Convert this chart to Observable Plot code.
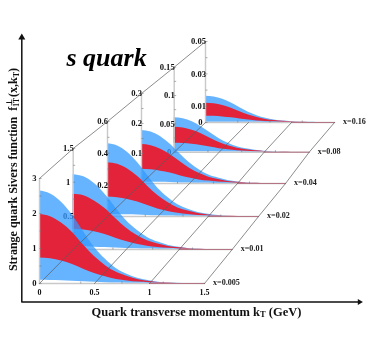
<!DOCTYPE html>
<html><head><meta charset="utf-8">
<style>html,body{margin:0;padding:0;background:#fff}</style>
<script src="https://cdn.jsdelivr.net/npm/d3@7"></script>
<script src="https://cdn.jsdelivr.net/npm/@observablehq/plot@0.6"></script>
</head><body><script>
// kT grid in GeV
const kT = [0,0.1,0.2,0.3,0.4,0.5,0.6,0.7,0.8,0.9,1.0,1.1,1.2,1.3];
const xLabels = ["x=0.005","x=0.01","x=0.02","x=0.04","x=0.08","x=0.16"];
const axisMax = [3,1.5,0.6,0.3,0.15,0.05];
const yTickLabels = [["0","1","2","3"],["0","0.5","1","1.5"],["0","0.2","0.4","0.6"],["0","0.1","0.2","0.3"],["0","0.05","0.1","0.15"],["0","0.01","0.03","0.05"]];
const kLabels = ["0","0.5","1","1.5"];

const blueTop0=[2.64,2.56,2.32,1.95,1.48,1.03,.69,.42,.26,.145,.08,.032,.011,0];
const redTop0 =[1.97,1.91,1.73,1.46,1.10,.77,.51,.32,.20,.108,.059,.024,.008,0];
const redBot0 =[.73,.71,.64,.54,.41,.285,.19,.117,.073,.04,.022,.009,.003,0];
const blueBot0=[.09,.087,.079,.067,.05,.035,.023,.014,.009,.005,.003,.001,0,0];

const blueTop1=[1.11,1.08,.98,.82,.62,.43,.29,.18,.11,.061,.033,.013,.004,0];
const redTop1 =[.82,.80,.72,.61,.46,.32,.21,.13,.082,.045,.025,.01,.003,0];
const redBot1 =[.30,.29,.264,.222,.168,.117,.078,.048,.03,.017,.009,.004,.001,0];
const blueBot1=[.04,.039,.035,.03,.022,.016,.01,.006,.004,.002,.001,0,0,0];

const blueTop2=[.46,.446,.405,.34,.258,.179,.12,.074,.046,.025,.014,.006,.002,0];
const redTop2 =[.34,.33,.30,.252,.19,.133,.088,.054,.034,.019,.01,.004,.001,0];
const redBot2 =[.123,.119,.108,.091,.069,.048,.032,.02,.012,.007,.004,.001,0,0];
const blueBot2=[.013,.013,.011,.01,.007,.005,.003,.002,.001,.001,0,0,0,0];

const blueTop3=[.177,.172,.156,.131,.099,.069,.046,.028,.018,.01,.005,.002,.001,0];
const redTop3 =[.13,.126,.114,.096,.073,.051,.034,.021,.013,.007,.004,.002,.001,0];
const redBot3 =[.047,.046,.041,.035,.026,.018,.012,.008,.005,.003,.001,.001,0,0];
const blueBot3=[.004,.004,.004,.003,.002,.002,.001,.001,0,0,0,0,0,0];

const blueTop4=[.061,.0592,.0537,.0451,.0342,.0238,.0159,.0098,.0061,.0034,.0018,.0007,.0002,0];
const redTop4 =[.044,.0427,.0387,.0326,.0246,.0172,.0114,.007,.0044,.0024,.0013,.0005,.0002,0];
const redBot4 =[.016,.0155,.0141,.0118,.009,.0062,.0042,.0026,.0016,.0009,.0005,.0002,.0001,0];
const blueBot4=[.001,.001,.0009,.0007,.0006,.0004,.0003,.0002,.0001,.0001,0,0,0,0];

const blueTop5=[.0162,.0157,.0143,.012,.0091,.0063,.0042,.0026,.0016,.0009,.0005,.0002,.0001,0];
const redTop5 =[.0119,.0115,.0105,.0088,.0067,.0046,.0031,.0019,.0012,.0007,.0004,.0001,0,0];
const redBot5 =[.0039,.0038,.0034,.0029,.0022,.0015,.001,.0006,.0004,.0002,.0001,0,0,0];
const blueBot5=[.0002,.0002,.0002,.0001,.0001,.0001,.0001,0,0,0,0,0,0,0];

const bands = [
 [blueTop0,redTop0,redBot0,blueBot0],[blueTop1,redTop1,redBot1,blueBot1],
 [blueTop2,redTop2,redBot2,blueBot2],[blueTop3,redTop3,redBot3,blueBot3],
 [blueTop4,redTop4,redBot4,blueBot4],[blueTop5,redTop5,redBot5,blueBot5]];

// pseudo-3D projection of each x plane onto the page
const originX=[39,72.7,107,141,173.7,205], originY=[283,249,216,183,151.7,122];
const planeW=[165,159,151,144,135,129], planeH=[105,101,95,90,85,81];
const X=(p,k)=>originX[p]+k/1.5*planeW[p];
const Y=(p,v)=>originY[p]-v/axisMax[p]*planeH[p];

const BLUE="#339aff", RED="#e2233a", GREY="#c9c9c9", LINE="#5a5a5a";
const marks=[];
const tickFont={fontSize:8.6,fontWeight:"bold",fill:"#111"};

for(let p=5;p>=0;p--){
  const [bt,rt,rb,bb]=bands[p];
  const rows=kT.map((k,i)=>({x:X(p,k),bt:Y(p,bt[i]),rt:Y(p,rt[i]),rb:Y(p,rb[i]),bb:Y(p,bb[i])}));
  marks.push(Plot.areaY(rows,{x:"x",y1:"bb",y2:"bt",fill:BLUE,fillOpacity:0.75,curve:"monotone-x"}));
  marks.push(Plot.areaY(rows,{x:"x",y1:"rb",y2:"rt",fill:RED,curve:"monotone-x"}));
  // floor line and vertical axis
  marks.push(Plot.line([[X(p,0),Y(p,0)],[X(p,1.5),Y(p,0)]],{stroke:GREY,strokeWidth:1.6}));
  marks.push(Plot.line([[X(p,1),Y(p,0)],[X(p,1.5),Y(p,0)]],{stroke:"#a83a55",strokeWidth:0.6}));
  marks.push(Plot.line([[X(p,0),Y(p,0)],[X(p,0),Y(p,axisMax[p])]],{stroke:GREY,strokeWidth:1.4}));
  // ticks
  const steps=p===5?[0,.01,.02,.03,.04,.05]:[0,1,2,3,4,5,6].map(i=>i*axisMax[p]/6);
  marks.push(Plot.link(steps,{x1:()=>X(p,0),x2:()=>X(p,0)+2,y1:v=>Y(p,v),y2:v=>Y(p,v),stroke:"#777",strokeWidth:0.6}));
  marks.push(Plot.link([.375,.75,1.125],{x1:k=>X(p,k),x2:k=>X(p,k),y1:()=>Y(p,0),y2:()=>Y(p,0)-2,stroke:"#777",strokeWidth:0.6}));
  // y labels
  marks.push(Plot.text(yTickLabels[p],{x:()=>X(p,0),y:s=>Y(p,+s),text:s=>s,textAnchor:"end",dx:0,...tickFont,
     render(i,s,v,d,c,n){const g=n(i,s,v,d,c);d3.select(g).selectAll("text").attr("dx",function(){return this.textContent.length>1?0.5:-3;});return g;}}));
  // x label
  marks.push(Plot.text([xLabels[p]],{x:()=>X(p,1.5)+8.5,y:()=>Y(p,0)-1,text:s=>s,textAnchor:"start",fontSize:8.1,fontWeight:"bold",fill:"#222"}));
}
// floor diagonals
[0,0.5,1,1.5].forEach(k=>{
  marks.push(Plot.line(originX.map((_,p)=>[X(p,k),Y(p,0)]),{stroke:LINE,strokeWidth:0.7}));
});
// top diagonal
marks.push(Plot.line(originX.map((_,p)=>[X(p,0),Y(p,axisMax[p])]),{stroke:LINE,strokeWidth:0.7}));
// k labels
marks.push(Plot.text(kLabels,{x:s=>X(0,+s),y:()=>291.5,text:s=>s,fontSize:8,fontWeight:"bold",fill:"#111"}));
// frame
marks.push(Plot.line([[21.3,38],[21.3,301.5],[358,301.5]],{stroke:"#111",strokeWidth:1.5,mixBlendMode:"multiply"}));
marks.push(Plot.dot([[21.3,37]],{symbol:"triangle",r:2.6,fill:"#111",stroke:"none"}));
marks.push(Plot.dot([[359,301.5]],{symbol:"triangle",r:2.2,fill:"#111",stroke:"none",rotate:90}));
// titles
marks.push(Plot.text(["s quark"],{x:()=>66,y:()=>57,text:s=>s,textAnchor:"start",fontSize:26,fontWeight:"bold",fontStyle:"italic",fill:"#000"}));
marks.push(Plot.text(["Quark transverse momentum kT (GeV)"],{x:()=>196,y:()=>311,text:s=>s,fontSize:12.5,fontWeight:"bold",fill:"#111"}));
marks.push(Plot.text(["Strange quark Sivers function f"],{x:()=>13,y:()=>169,text:s=>s,rotate:-90,fontSize:12,fontWeight:"bold",fill:"#111"}));

const chart=Plot.plot({
  width:391,height:356,margin:0,
  x:{type:"linear",domain:[0,391],range:[0,391],axis:null},
  y:{type:"linear",domain:[0,356],range:[0,356],axis:null},
  style:{fontFamily:"'Liberation Serif',serif",background:"#fff"},
  marks
});
// sub- and superscripts inside the real text
d3.select(chart).selectAll("text").each(function(){
  const t=d3.select(this), s=this.textContent;
  if(s.startsWith("Quark")){
    t.text("Quark transverse momentum k");
    t.append("tspan").attr("font-size",8.5).attr("dy",1.5).text("T");
    t.append("tspan").attr("dy",-1.5).text(" (GeV)");
  } else if(s.startsWith("Strange")){
    t.text("Strange quark Sivers function  f");
    t.append("tspan").attr("font-size",7.5).attr("dy",1.5).text("1T");
    t.append("tspan").attr("font-size",7.5).attr("dy",-6.5).attr("dx",-8).text("⊥");
    t.append("tspan").attr("dy",5).attr("dx",2).text("(x,k");
    t.append("tspan").attr("font-size",8).attr("dy",1.5).text("T");
    t.append("tspan").attr("dy",-1.5).text(")");
  }
});
document.body.appendChild(chart);
</script></body></html>
